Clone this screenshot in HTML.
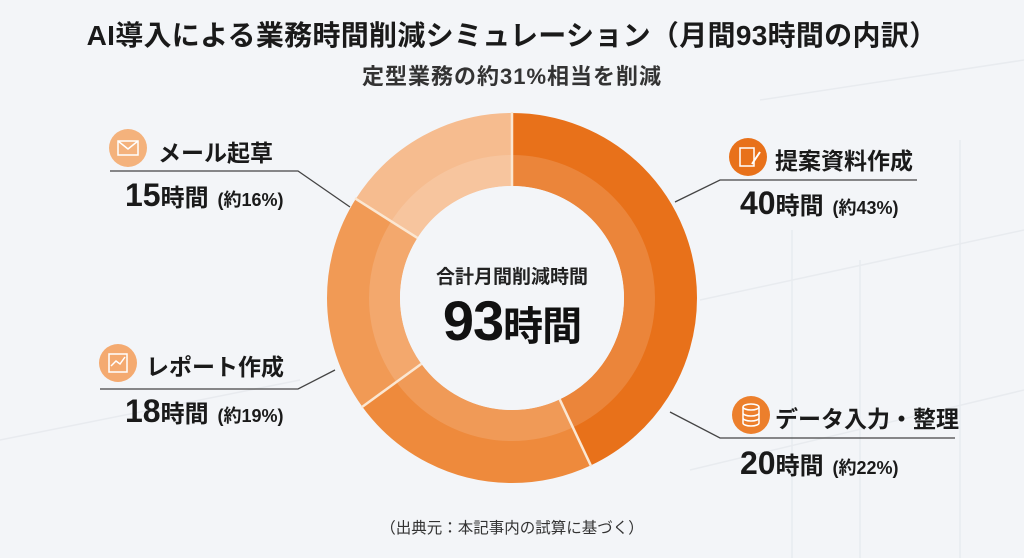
<!DOCTYPE html>
<html><head><meta charset="utf-8"><style>
body{margin:0;width:1024px;height:558px;overflow:hidden;background:#f3f5f8;font-family:"Liberation Sans","Noto Sans CJK JP",sans-serif;}
svg{position:absolute;left:0;top:0}
.t{position:absolute;white-space:nowrap;color:#1a1a1a;font-weight:bold}
</style></head><body>
<svg width="1024" height="558">
<g stroke="#e8ebef" stroke-width="1.5" fill="none">
<path d="M0 440 L300 380 M700 300 L1024 230 M690 470 L1024 390 M760 100 L1024 60"/>
<path d="M792 230 V558 M860 260 V558 M960 140 V558"/>
</g>
<g transform="rotate(-90 512 298)" fill="none" stroke-width="73">
<circle cx="512" cy="298" r="148.5" stroke="#e8711a" stroke-dasharray="401.2 933.05" stroke-dashoffset="0"/>
<circle cx="512" cy="298" r="148.5" stroke="#ee8a3c" stroke-dasharray="205.3 933.05" stroke-dashoffset="-401.2"/>
<circle cx="512" cy="298" r="148.5" stroke="#f19a55" stroke-dasharray="177.3 933.05" stroke-dashoffset="-606.5"/>
<circle cx="512" cy="298" r="148.5" stroke="#f6bc8f" stroke-dasharray="149.3 933.05" stroke-dashoffset="-783.8"/>
</g>
<circle cx="512" cy="298" r="127.5" fill="none" stroke="#fff" stroke-opacity="0.14" stroke-width="31"/>
<g stroke="#fbe7d2" stroke-width="2.5">
<line x1="512" y1="298" x2="512" y2="112" transform="rotate(0 512 298)"/>
<line x1="512" y1="186" x2="512" y2="112" transform="rotate(154.8 512 298)"/>
<line x1="512" y1="186" x2="512" y2="112" transform="rotate(234 512 298)"/>
<line x1="512" y1="186" x2="512" y2="112" transform="rotate(302.4 512 298)"/>
</g>
<circle cx="512" cy="298" r="112" fill="#f3f5f8"/>
<g stroke="#444" stroke-width="1.3" fill="none">
<polyline points="110,171 298,171 350,207"/>
<polyline points="100,389 298,389 335,370"/>
<polyline points="675,202 720,180 917,180"/>
<polyline points="670,412 720,438 955,438"/>
</g>
<circle cx="128" cy="148" r="19" fill="#f4b27c"/>
<rect x="118" y="141" width="20" height="14" fill="none" stroke="#fff" stroke-width="1.5"/><polyline points="118,141 128,149 138,141" fill="none" stroke="#fff" stroke-width="1.5"/>
<circle cx="118" cy="363" r="19" fill="#f4aa70"/>
<rect x="109" y="354" width="18" height="18" fill="none" stroke="#fff" stroke-width="1.5"/><polyline points="111,366 116,361 120,364 125,357" fill="none" stroke="#fff" stroke-width="1.5"/>
<circle cx="748" cy="157" r="19" fill="#e8711a"/>
<rect x="740" y="148" width="14" height="18" fill="none" stroke="#fff" stroke-width="1.5"/><line x1="752" y1="164" x2="760" y2="152" stroke="#fff" stroke-width="2"/>
<circle cx="751" cy="415" r="19" fill="#ec7f2c"/>
<g fill="none" stroke="#fff" stroke-width="1.5"><ellipse cx="751" cy="407" rx="8" ry="3"/><path d="M743 407 V423 A8 3 0 0 0 759 423 V407 M743 413 A8 3 0 0 0 759 413 M743 418 A8 3 0 0 0 759 418"/></g>
</svg>
<div class="t" style="left:0;width:1024px;text-align:center;top:14px;font-size:28px;letter-spacing:0.3px">AI導入による業務時間削減シミュレーション（月間93時間の内訳）</div>
<div class="t" style="left:0;width:1024px;text-align:center;top:59px;font-size:22px;color:#333;letter-spacing:1px">定型業務の約31%相当を削減</div>
<div class="t" style="left:412px;width:200px;text-align:center;top:262px;font-size:19px;color:#222">合計月間削減時間</div>
<div class="t" style="left:390px;width:244px;text-align:center;top:288px;font-size:56px;color:#111;letter-spacing:-1px"><span>93</span><span style="font-size:40px">時間</span></div>
<div class="t" style="left:158px;top:134px;font-size:23px">メール起草</div>
<div class="t" style="left:125px;top:177px;font-size:32px">15<span style="font-size:24px">時間</span> <span style="font-size:18px">(約16%)</span></div>
<div class="t" style="left:146px;top:348px;font-size:23px">レポート作成</div>
<div class="t" style="left:125px;top:393px;font-size:32px">18<span style="font-size:24px">時間</span> <span style="font-size:18px">(約19%)</span></div>
<div class="t" style="left:775px;top:142px;font-size:23px">提案資料作成</div>
<div class="t" style="left:740px;top:185px;font-size:32px">40<span style="font-size:24px">時間</span> <span style="font-size:18px">(約43%)</span></div>
<div class="t" style="left:775px;top:400px;font-size:23px">データ入力・整理</div>
<div class="t" style="left:740px;top:445px;font-size:32px">20<span style="font-size:24px">時間</span> <span style="font-size:18px">(約22%)</span></div>
<div class="t" style="left:0;width:1024px;text-align:center;top:516px;font-size:15.5px;color:#333;font-weight:normal">（出典元：本記事内の試算に基づく）</div>
</body></html>
